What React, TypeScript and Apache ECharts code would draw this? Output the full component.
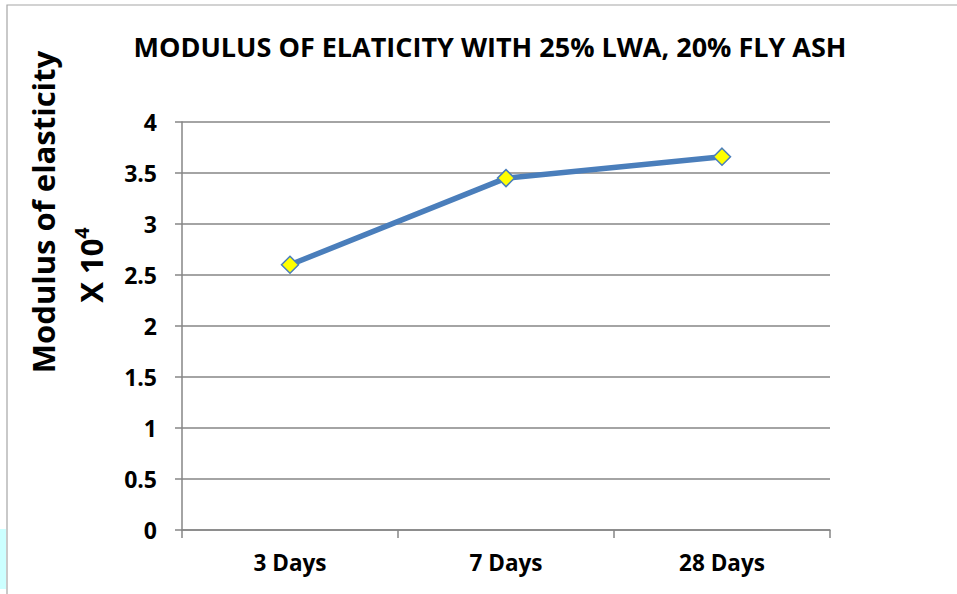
import React, { useEffect, useRef } from "react";
import * as echarts from "echarts";

const categories = ["3 Days", "7 Days", "28 Days"];
const modulusValues = [2.6, 3.45, 3.66];
const yTicks = { min: 0, max: 4, interval: 0.5 };

const FONT = "'Open Sans', sans-serif";

export default function App() {
  const ref = useRef<HTMLDivElement>(null);

  useEffect(() => {
    if (!ref.current) return;
    const chart = echarts.init(ref.current, null, { renderer: "svg" });
    chart.setOption({
      animation: false,
      backgroundColor: "#ffffff",
      title: {
        text: "MODULUS OF ELATICITY WITH 25% LWA, 20% FLY ASH",
        left: 485,
        top: 28,
        textAlign: "center",
        textStyle: { fontFamily: FONT, fontWeight: "bold", fontSize: 27, color: "#000" },
      },
      grid: { left: 182, right: 127, top: 122, bottom: 64 },
      xAxis: {
        type: "category",
        data: categories,
        boundaryGap: true,
        axisLine: { lineStyle: { color: "#868686", width: 1.5 } },
        axisTick: { show: true, length: 8, lineStyle: { color: "#868686", width: 1.5 } },
        axisLabel: { margin: 21, fontFamily: FONT, fontWeight: "bold", fontSize: 22.5, color: "#000" },
        splitLine: { show: false },
      },
      yAxis: {
        type: "value",
        min: yTicks.min,
        max: yTicks.max,
        interval: yTicks.interval,
        axisLine: { show: true, lineStyle: { color: "#868686", width: 1.5 } },
        axisTick: { show: true, length: 7, lineStyle: { color: "#868686", width: 1.5 } },
        axisLabel: { margin: 25, fontFamily: FONT, fontWeight: "bold", fontSize: 23, color: "#000" },
        splitLine: { show: true, lineStyle: { color: "#868686", width: 1.5 } },
      },
      series: [
        {
          type: "line",
          data: modulusValues,
          lineStyle: { color: "#4a7ebb", width: 5.5 },
          symbol: "diamond",
          symbolSize: 17,
          itemStyle: { color: "#ffff00", borderColor: "#4a7ebb", borderWidth: 1.5 },
          z: 3,
        },
      ],
      graphic: [
        {
          type: "rect",
          shape: { x: 7, y: 5, width: 1000, height: 700 },
          style: { fill: "none", stroke: "#a6a6a6", lineWidth: 1.2 },
          silent: true,
          z: -1,
        },
        {
          type: "rect",
          shape: { x: 0, y: 529, width: 6, height: 60 },
          style: { fill: "#ccffff" },
          silent: true,
        },
        {
          type: "text",
          x: 43,
          y: 212,
          rotation: Math.PI / 2,
          style: {
            text: "Modulus of elasticity",
            font: `bold 31px ${FONT}`,
            fill: "#000",
            align: "center",
            verticalAlign: "middle",
          },
        },
        {
          type: "text",
          x: 89,
          y: 265,
          rotation: Math.PI / 2,
          style: {
            text: "{b|X 10}{s|4}",
            align: "center",
            verticalAlign: "middle",
            rich: {
              b: { font: `bold 31px ${FONT}`, fill: "#000", verticalAlign: "bottom" },
              s: { font: `bold 20px ${FONT}`, fill: "#000", verticalAlign: "top", padding: [0, 0, 15, 0] },
            },
          },
        },
      ],
    });
    return () => chart.dispose();
  }, []);

  return (
    <div
      ref={ref}
      style={{ position: "fixed", left: 0, top: 0, width: 957, height: 594 }}
    />
  );
}
